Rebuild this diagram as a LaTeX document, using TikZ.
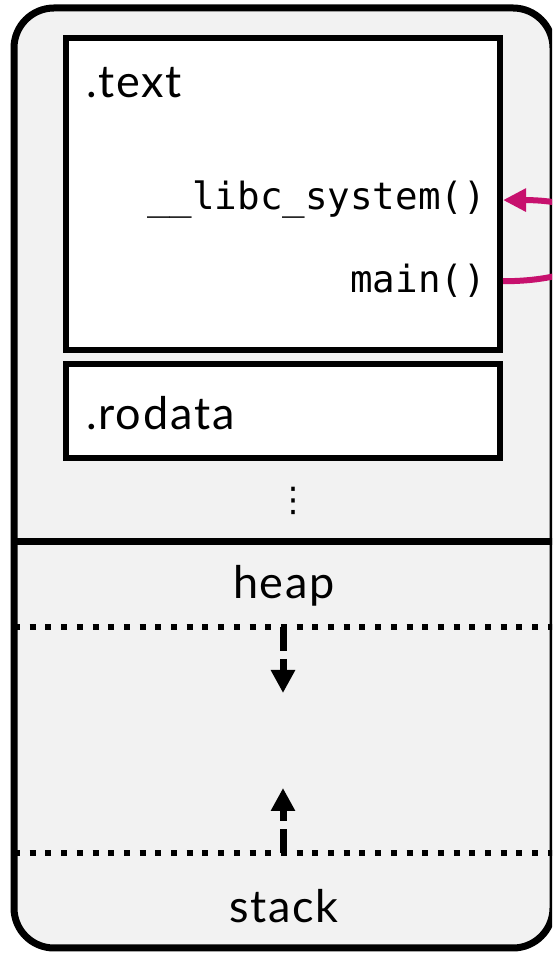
\documentclass[tikz,border=0pt]{standalone}
\usepackage{fontspec}
\setmainfont{Lato}[LetterSpace=4]
\newfontfamily\codefont{DejaVu Sans Mono}
\newfontfamily\symfont{DejaVu Sans}
\usetikzlibrary{arrows.meta,positioning}

\definecolor{framegray}{RGB}{242,242,242}
\definecolor{callpink}{RGB}{199,17,110}

\tikzset{
  section/.style={draw=black, line width=6pt, fill=white},
  secname/.style={inner sep=0pt, font=\fontsize{45}{45}\selectfont},
  fn/.style={inner sep=0pt, font=\codefont\fontsize{37.5}{37.5}\selectfont},
  boundary/.style={line width=6pt, dash pattern=on 6pt off 9.7pt},
  growarrow/.style={line width=7pt, dash pattern=on 24pt off 8pt,
    -{Triangle[length=23pt,width=23pt]}},
  call/.style={callpink, line width=6pt,
    -{Triangle[length=23pt,width=22pt]}}
}

\begin{document}
\begin{tikzpicture}[x=1pt,y=1pt]
  \clip (0,0) rectangle (552,956);
  % address space
  \draw[line width=7pt, rounded corners=40pt, fill=framegray] (14,8) rectangle (553,948);

  \node[section, minimum width=434pt, minimum height=312pt] (text) at (283,762) {};
  \node[section, minimum width=434pt, minimum height=94pt] (rodata) at (283,545) {};
  \node[secname, anchor=base west] (textname) at (86,858) {.text};
  \node[secname, anchor=base west] (rodataname) at (86,526) {.rodata};
  \node[fn, anchor=base east] (libc) at (486,746) {\_\_libc\_system()};
  \node[fn, anchor=base east] (main) at (486,663) {main()};
  \node[inner sep=0pt, font=\symfont\fontsize{34}{34}\selectfont] (dots) at (293,455) {⋮};

  \coordinate (splitw) at (14,414);
  \coordinate (splite) at (553,414);
  \draw[line width=7pt] (splitw) -- (splite);

  % heap and stack
  \node[secname, anchor=base] (heap) at (284,357) {heap};
  \node[secname, anchor=base] (stack) at (284,33) {stack};
  \coordinate (heapw) at (14,329);
  \coordinate (heape) at (553,329);
  \coordinate (stackw) at (14,103);
  \coordinate (stacke) at (553,103);
  \draw[boundary] (heapw) -- (heape);
  \draw[boundary] (stackw) -- (stacke);
  \coordinate (heaptop) at (283,329);
  \coordinate (heapend) at (283,263);
  \coordinate (stacktop) at (283,103);
  \coordinate (stackend) at (283,168);
  \draw[growarrow] (heaptop) -- (heapend);
  \draw[growarrow] (stacktop) -- (stackend);

  \draw[call] (text.east |- main) to[out=0, in=0, looseness=4.2] (text.east |- libc);
\end{tikzpicture}
\end{document}
